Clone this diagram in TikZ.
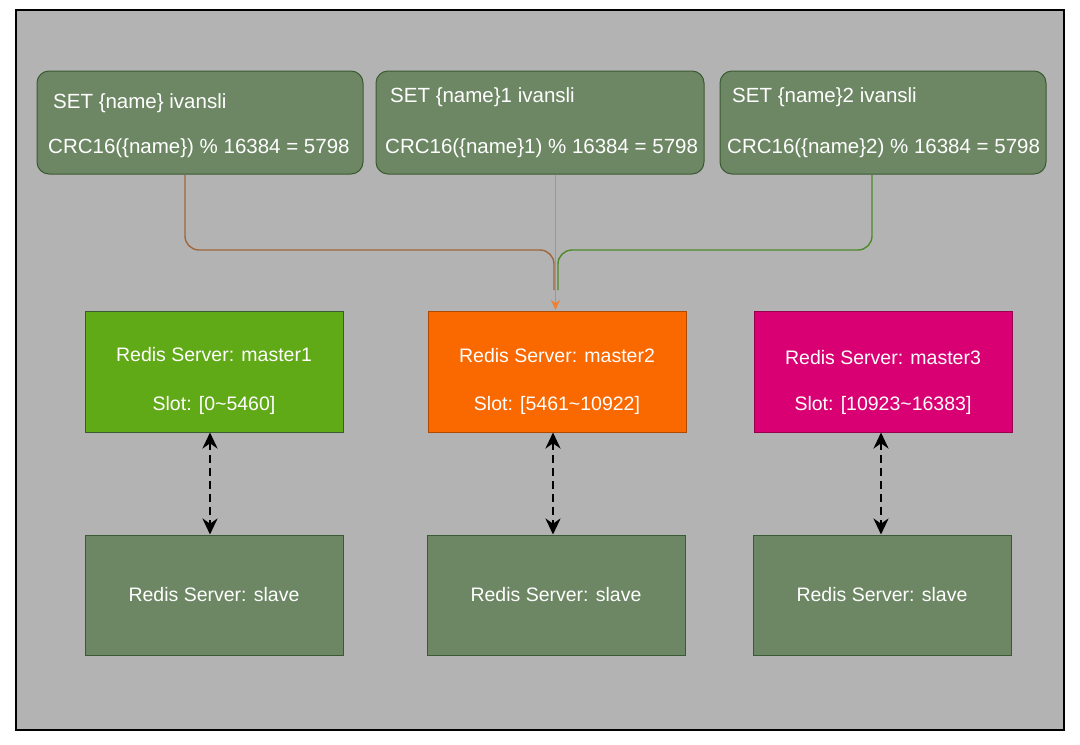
\documentclass[tikz,border=0pt]{standalone}
\usepackage{fontspec}
\setmainfont{Liberation Sans}
\usetikzlibrary{arrows.meta}
\definecolor{bg}{HTML}{B3B3B3}
\definecolor{cmd}{HTML}{6D8764}
\definecolor{cmdb}{HTML}{3A5A32}
\definecolor{mg}{HTML}{60A917}
\definecolor{mo}{HTML}{FA6800}
\definecolor{mm}{HTML}{D80073}
\definecolor{la}{HTML}{A0673A}
\definecolor{lb}{HTML}{F07F30}
\definecolor{lc}{HTML}{4D8A2A}
\begin{document}
\begin{tikzpicture}[x=1pt,y=-1pt,
  txt/.style={text=white,font=\fontsize{20.5}{22}\selectfont,anchor=west,inner sep=0},
  ctxt/.style={text=white,font=\fontsize{19.5}{22}\selectfont,inner sep=0},
  cmdbox/.style={draw=cmdb,fill=cmd,rounded corners=12pt,line width=1pt},
  sq/.style={draw=cmdb,line width=1pt},
  link/.style={dash pattern=on 8pt off 5pt,line width=2.8pt,{Stealth[length=16pt,width=15pt]}-{Stealth[length=16pt,width=15pt]}},
  conn/.style={line width=1.4pt,rounded corners=14pt}]
\useasboundingbox (0,0) rectangle (1080,745);
\fill[white] (0,0) rectangle (1080,745);
\draw[fill=bg,line width=1.2pt] (16,10) rectangle (1064,730);
% command boxes
\draw[cmdbox] (37,71) rectangle (363,174);
\draw[cmdbox] (376,71) rectangle (704,174);
\draw[cmdbox] (720,71) rectangle (1046,174);
\node[txt] (a1) at (53,103) {SET \{name\} ivansli};
\node[txt] (a2) at (48,148) {CRC16(\{name\}) \% 16384 = 5798};
\node[txt] (b1) at (390,97) {SET \{name\}1 ivansli};
\node[txt] (b2) at (385,148) {CRC16(\{name\}1) \% 16384 = 5798};
\node[txt] (c1) at (732,97) {SET \{name\}2 ivansli};
\node[txt] (c2) at (727,148) {CRC16(\{name\}2) \% 16384 = 5798};
\coordinate (ta) at (185,175);
\coordinate (tb) at (555.5,175);
\coordinate (tc) at (872,175);
\coordinate (hb) at (555.5,310);
% masters
\node[sq,fill=mg,minimum width=258pt,minimum height=121pt] (m1) at (214,371.5) {};
\node[sq,draw=mo!70!black,fill=mo,minimum width=258pt,minimum height=121pt] (m2) at (557,371.5) {};
\node[sq,draw=mm!70!black,fill=mm,minimum width=258pt,minimum height=121pt] (m3) at (883,371.5) {};
\node[ctxt] at (214,355) {Redis Server: master1};
\node[ctxt] at (214,405) {Slot: [0\textasciitilde 5460]};
\node[ctxt] at (557,356) {Redis Server: master2};
\node[ctxt] at (557,405) {Slot: [5461\textasciitilde 10922]};
\node[ctxt] at (883,358) {Redis Server: master3};
\node[ctxt] at (883,405) {Slot: [10923\textasciitilde 16383]};
% slaves
\node[sq,fill=cmd,minimum width=258pt,minimum height=120pt] (s1) at (214,595) {};
\node[sq,fill=cmd,minimum width=258pt,minimum height=120pt] (s2) at (556,595) {};
\node[sq,fill=cmd,minimum width=258pt,minimum height=120pt] (s3) at (882,595) {};
\node[ctxt] at (214,595) {Redis Server: slave};
\node[ctxt] at (556,595) {Redis Server: slave};
\node[ctxt] at (882,595) {Redis Server: slave};
% connectors
\draw[conn,la] (ta) -- (185,250) -- (554,250) -- (554,290);
\draw[conn,lc] (tc) -- (872,250) -- (558,250) -- (558,290);
\draw[line width=1.6pt,lb,-{Stealth[length=10pt,width=9pt,open]}] (tb) -- (hb);
% dashed links
\draw[link] (m1.south -| 210,0) -- (s1.north -| 210,0);
\draw[link] (m2.south -| 553,0) -- (s2.north -| 553,0);
\draw[link] (m3.south -| 881,0) -- (s3.north -| 881,0);
\end{tikzpicture}
\end{document}
